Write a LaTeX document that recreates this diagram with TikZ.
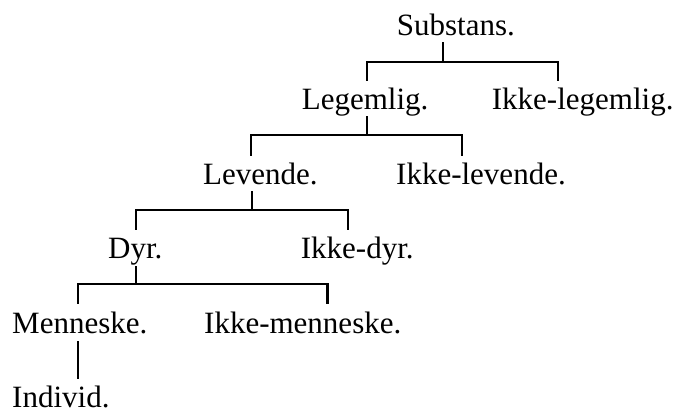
\documentclass[tikz,border=0pt]{standalone}
\usepackage{fontspec}
\setmainfont{Liberation Serif}
\usetikzlibrary{calc}
\begin{document}
\begin{tikzpicture}[x=1pt,y=-1pt,
  term/.style={anchor=base west,inner sep=0pt,font=\fontsize{31}{37}\selectfont},
  tree/.style={line width=2.2pt,line cap=rect,line join=miter}]
\useasboundingbox (0,0) rectangle (680,410);

% terms of the division, by baseline
\node[term] (sub)  at (396.7,35.5)  {Substans.};
\node[term] (leg)  at (301.7,109.5) {Legemlig.};
\node[term] (ileg) at (491.7,109.5) {Ikke-legemlig.};
\node[term] (lev)  at (203,184)     {Levende.};
\node[term] (ilev) at (396,184)     {Ikke-levende.};
\node[term] (dyr)  at (108,258.5)   {Dyr.};
\node[term] (idyr) at (300.7,258.5) {Ikke-dyr.};
\node[term] (men)  at (12,333)      {Menneske.};
\node[term] (imen) at (204,333)     {Ikke-menneske.};
\node[term] (ind)  at (12,407.5)    {Individ.};

% Substans -> Legemlig / Ikke-legemlig
\draw[tree] ($(sub.base west)+(46.6,8)$) -- ++(0,18.5);
\draw[tree] ($(leg.base west)+(65.3,-29.5)$) |- ($(ileg.base west)+(66.6,-47.5)$) -- ++(0,18);

% Legemlig -> Levende / Ikke-levende
\draw[tree] ($(leg.base west)+(65.3,7.5)$) -- ++(0,18);
\draw[tree] ($(lev.base west)+(48,-29)$) |- ($(ilev.base west)+(65.7,-49)$) -- ++(0,20);

% Levende -> Dyr / Ikke-dyr
\draw[tree] ($(lev.base west)+(48.7,8)$) -- ++(0,18);
\draw[tree] ($(dyr.base west)+(27.7,-29.5)$) |- ($(idyr.base west)+(47,-48.5)$) -- ++(0,19);

% Dyr -> Menneske / Ikke-menneske
\draw[tree] ($(dyr.base west)+(28,8.5)$) -- ++(0,17);
\draw[tree] ($(men.base west)+(66,-30)$) |- ($(imen.base west)+(123.5,-49)$) -- ++(0,19);

% Menneske -> Individ
\draw[tree] ($(men.base west)+(66,9)$) -- ($(ind.base west)+(66,-29.5)$);
\end{tikzpicture}
\end{document}
